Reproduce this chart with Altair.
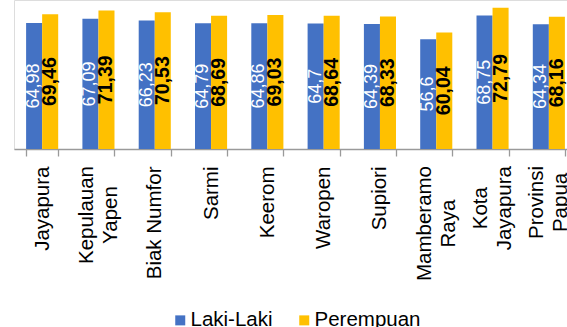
import altair as alt
import pandas as pd

# Regions (line breaks mark how each axis label wraps)
regions = [
    "Jayapura",
    "Kepulauan\nYapen",
    "Biak Numfor",
    "Sarmi",
    "Keerom",
    "Waropen",
    "Supiori",
    "Mamberamo\nRaya",
    "Kota\nJayapura",
    "Provinsi\nPapua",
]
series = ["Laki-Laki", "Perempuan"]
laki_laki = [64.98, 67.09, 66.23, 64.79, 64.86, 64.7, 64.39, 56.6, 68.75, 64.34]
perempuan = [69.46, 71.39, 70.53, 68.69, 69.03, 68.64, 68.33, 60.04, 72.79, 68.16]
colors = ["#4472C4", "#FFC000"]

rows = []
for r, a, b in zip(regions, laki_laki, perempuan):
    rows.append({"region": r, "sex": series[0], "value": a})
    rows.append({"region": r, "sex": series[1], "value": b})
df = pd.DataFrame(rows)

FONT = "Liberation Sans"
W, H = 553, 149
LABEL_SIZE = 20.5
LINE_H = 24
PAD = 10

# Advance widths (em) of the longest line of each wrapped label, Arial metrics.
longest_em = {
    "Kepulauan\nYapen": 4.781,
    "Mamberamo\nRaya": 5.612,
    "Kota\nJayapura": 4.113,
    "Provinsi\nPapua": 3.556,
}
multi_test = "indexof(datum.label, '\\n') >= 0"


def js_str(s):
    return "'" + s.replace("\n", "\\n") + "'"


# Wrapped labels are centred line by line, with the block's top kept level
# with the single-line labels.
pad_conditions = [
    {"test": f"datum.label == {js_str(k)}", "value": PAD + em * LABEL_SIZE / 2 - 0.5}
    for k, em in longest_em.items()
]

x_enc = alt.X(
    "region:N",
    sort=regions,
    scale=alt.Scale(range=[0, 563], paddingInner=0.43, paddingOuter=0.215),
    axis=alt.Axis(
        title=None,
        labelAngle=-90,
        labelExpr="split(datum.label, '\\n')",
        labelLineHeight=LINE_H,
        labelOffset={"condition": {"test": multi_test, "value": -LINE_H / 2}, "value": 0},
        labelAlign={"condition": {"test": multi_test, "value": "center"}, "value": "right"},
        labelPadding={"condition": pad_conditions, "value": PAD},
        labelFont=FONT,
        labelFontSize=LABEL_SIZE,
        labelColor="#000000",
        labelOverlap=False,
        labelLimit=0,
        labelBound=False,
        tickBand="extent",
        tickSize=7,
        tickColor="#9a9a9a",
        tickWidth=1.3,
        domainColor="#9a9a9a",
        domainWidth=1.3,
        grid=False,
    ),
)
xo_enc = alt.XOffset("sex:N", sort=series, scale=alt.Scale(paddingInner=0))
y_scale = alt.Scale(domain=[0, 76.8], nice=False, zero=True)

base = alt.Chart(df).encode(x=x_enc, xOffset=xo_enc)

bars = base.mark_bar().encode(
    y=alt.Y("value:Q", scale=y_scale, axis=None),
    color=alt.Color(
        "sex:N",
        sort=series,
        scale=alt.Scale(domain=series, range=colors),
        legend=alt.Legend(
            title=None,
            orient="none",
            direction="horizontal",
            legendX=156,
            legendY=310,
            symbolType="square",
            symbolSize=100,
            symbolStrokeWidth=0,
            labelFont=FONT,
            labelFontSize=20.5,
            labelColor="#000000",
            labelOffset=0,
            columnPadding=21,
        ),
    ),
)

text_base = base.transform_calculate(
    mid="datum.value / 2",
    lbl="replace(toString(datum.value), '.', ',')",
).encode(
    y=alt.Y("mid:Q", scale=y_scale, axis=None),
    text="lbl:N",
)

text_male = text_base.transform_filter(alt.datum.sex == series[0]).mark_text(
    angle=270, align="center", baseline="middle",
    font=FONT, fontSize=18, color="#FFFFFF",
)
text_female = text_base.transform_filter(alt.datum.sex == series[1]).mark_text(
    angle=270, align="center", baseline="middle",
    font=FONT, fontSize=19.5, fontWeight="bold", color="#000000",
)

chart = (
    alt.layer(bars, text_male, text_female)
    .properties(
        width=W,
        height=H,
        autosize=alt.AutoSizeParams(type="none"),
        padding={"left": 14, "top": 0, "right": 0, "bottom": 327 - H},
    )
    .configure_view(stroke=None)
    .configure(background="#FFFFFF")
)

chart.save("out.html", embed_options={"renderer": "svg", "actions": False})
